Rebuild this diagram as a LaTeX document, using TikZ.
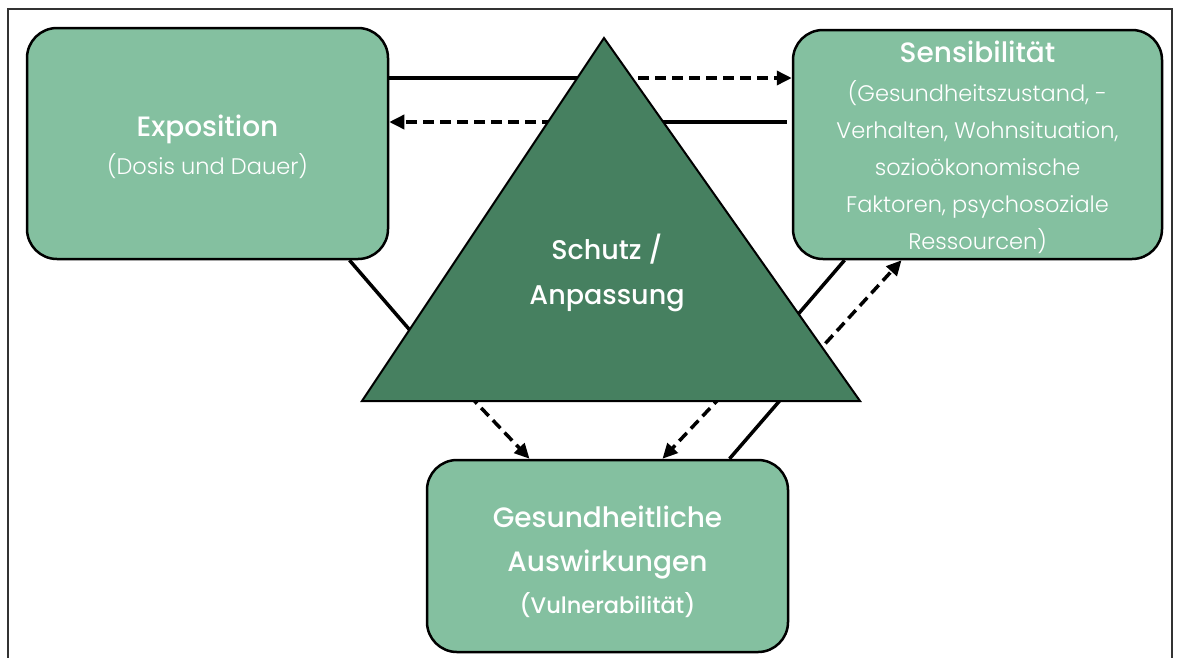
\documentclass[tikz,border=0pt]{standalone}
\usepackage{fontspec}
\setmainfont{Poppins}
\newfontfamily\lightfont{Poppins Light}
\newfontfamily\medfont{Poppins Medium}
\usetikzlibrary{positioning, arrows.meta, calc}
\definecolor{boxgreen}{RGB}{132,192,160}
\definecolor{trigreen}{RGB}{70,128,96}
\newcommand{\titlefont}{\medfont\fontsize{28}{40}\selectfont}
\tikzset{
box/.style={draw, line width=2.5pt, rounded corners=30pt, fill=boxgreen, inner sep=0pt},
txt/.style={text=white, align=center, inner sep=0pt, font=\lightfont\fontsize{22.5}{37}\selectfont},
tri/.style={draw, line width=2pt, fill=trigreen},
link/.style={line width=3.5pt},
dlink/.style={line width=3.5pt, dash pattern=on 11pt off 6pt, -{Triangle[length=15pt, width=14pt]}},
}

\begin{document}
\begin{tikzpicture}[x=1pt, y=-1pt]
    \useasboundingbox (0,0) rectangle (1177,657);
    \draw[line width=2pt, black!80] (8,9) rectangle (1172,700);

    %boxes
    \node[box, minimum width=361pt, minimum height=231pt] (expo) at (207.5,143.5) {};
    \node[box, minimum width=369pt, minimum height=229pt] (sens) at (977.5,144.5) {};
    \node[box, minimum width=361pt, minimum height=192pt] (gesund) at (607.5,556) {};

    %texts
    \node[txt] (expotext) at (207.5,147) {{\titlefont Exposition}\\[1pt](Dosis und Dauer)};
    \node[txt] (senstext) at (977.5,147.5) {{\titlefont Sensibilit\"at}\\[2pt](Gesundheitszustand, -\\Verhalten, Wohnsituation,\\sozio\"okonomische\\Faktoren, psychosoziale\\Ressourcen)};
    \node[txt] (gesundtext) at (607.5,562) {{\titlefont Gesundheitliche}\\[7pt]{\titlefont Auswirkungen}\\[5pt]{\medfont (Vulnerabilit\"at)}};

    %points under the triangle
    \coordinate (t1) at (604,78);
    \coordinate (t2) at (604,122);
    \coordinate (t3) at (440,365);
    \coordinate (t4) at (446,371);
    \coordinate (t5) at (745,371);
    \coordinate (t6) at (795,383);
    \coordinate (t7) at (770,347);
    \coordinate (t8) at (791,381);

    \draw[link] (expo.east |- t1) -- (t1);
    \draw[dlink] (t1) -- (sens.west |- t1);
    \draw[link] ([xshift=-5pt]sens.west |- t2) -- (t2);
    \draw[dlink] (t2) -- (expo.east |- t2);
    \draw[link] ([xshift=142pt]expo.south) -- (t3);
    \draw[dlink] (t4) -- ([xshift=-78pt]gesund.north);
    \draw[dlink] (t5) -- ([xshift=55pt]gesund.north);
    \draw[link] ([xshift=122pt]gesund.north) -- (t6);
    \draw[link] ([xshift=-133pt]sens.south) -- (t7);
    \draw[dlink] (t8) -- ([xshift=-76pt]sens.south);

    %triangle
    \coordinate (apex) at (604,38);
    \coordinate (bl) at (362,401);
    \coordinate (br) at (860,401);
    \filldraw[tri] (apex) -- (bl) -- (br) -- cycle;
    \node[txt, font=\medfont\fontsize{27}{45}\selectfont] (schutz) at (607,273) {Schutz /\\Anpassung};
\end{tikzpicture}
\end{document}
